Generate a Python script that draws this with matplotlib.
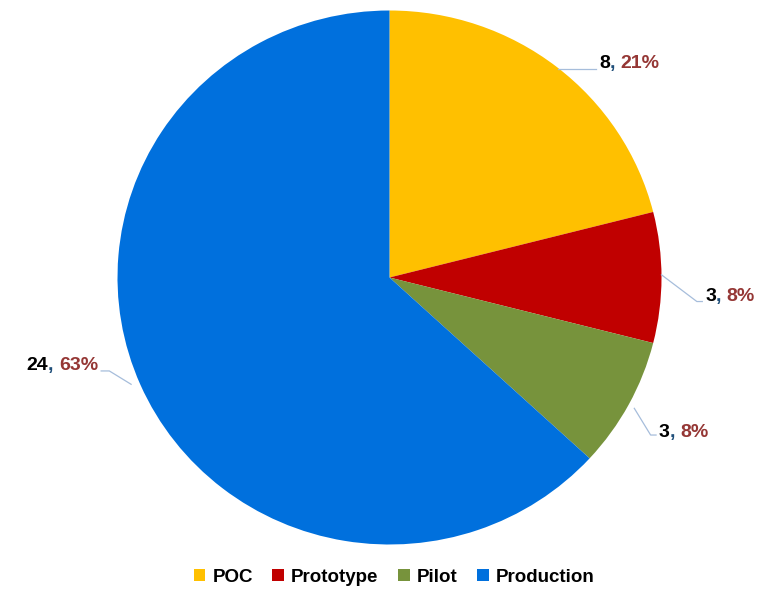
import numpy as np
import matplotlib.pyplot as plt
from matplotlib.patches import Patch

plt.rcParams['font.family'] = ['Liberation Sans', 'DejaVu Sans']

# data
stages = ['POC', 'Prototype', 'Pilot', 'Production']
counts = [8, 3, 3, 24]
colors = ['#FFC000', '#C00000', '#77933C', '#0070DD']

# label placement (data coords, radius = 1)
label_xy = [(0.77, 0.80), (1.16, -0.07), (0.99, -0.58), (-1.07, -0.33)]
label_ha = ['left', 'left', 'left', 'right']
leader_pts = [
    [(0.62, 0.78), (0.76, 0.78)],
    [(1.00, 0.01), (1.13, -0.09), (1.15, -0.09)],
    [(0.90, -0.49), (0.96, -0.59), (0.98, -0.59)],
    [(-1.06, -0.35), (-1.03, -0.35), (-0.95, -0.40)],
]

fig = plt.figure(figsize=(7.7, 5.93), dpi=100)
cx, cy = 389.5, 277.5
rx, ry = 272, 267
ax = fig.add_axes([(cx - rx) / 770, (593 - cy - ry) / 593, 2 * rx / 770, 2 * ry / 593])
ax.pie(counts, colors=colors, startangle=90, counterclock=False, radius=1,
       wedgeprops=dict(linewidth=0))
ax.set_xlim(-1, 1)
ax.set_ylim(-1, 1)
ax.set_aspect('auto')
ax.axis('off')

total = sum(counts)
for i, n in enumerate(counts):
    pts = np.array(leader_pts[i])
    ax.plot(pts[:, 0], pts[:, 1], color='#A6BDDB', lw=0.9, clip_on=False)
    pct = f"{round(100 * n / total)}%"
    x, y = label_xy[i]
    kw = dict(fontsize=14, fontweight='bold', va='center')
    if label_ha[i] == 'left':
        t1 = ax.text(x, y, str(n), color='black', ha='left', **kw)
        t2 = ax.annotate(', ', xy=(1, 0.5), xycoords=t1, color='#1F4E79', ha='left', **kw)
        ax.annotate(pct, xy=(1, 0.5), xycoords=t2, color='#953735', ha='left', **kw)
    else:
        t3 = ax.text(x, y, pct, color='#953735', ha='right', **kw)
        t2 = ax.annotate(', ', xy=(0, 0.5), xycoords=t3, color='#1F4E79', ha='right', **kw)
        ax.annotate(str(n), xy=(0, 0.5), xycoords=t2, color='black', ha='right', **kw)

handles = [Patch(facecolor=c, edgecolor='none') for c in colors]
fig.legend(handles, stages, loc='center', bbox_to_anchor=(0.512, 1 - 577 / 593),
           ncol=4, frameon=False, handlelength=0.6, handleheight=0.6,
           handletextpad=0.4, columnspacing=1.05,
           prop=dict(weight='bold', size=13.5))

fig.savefig('out.png', dpi=100)
